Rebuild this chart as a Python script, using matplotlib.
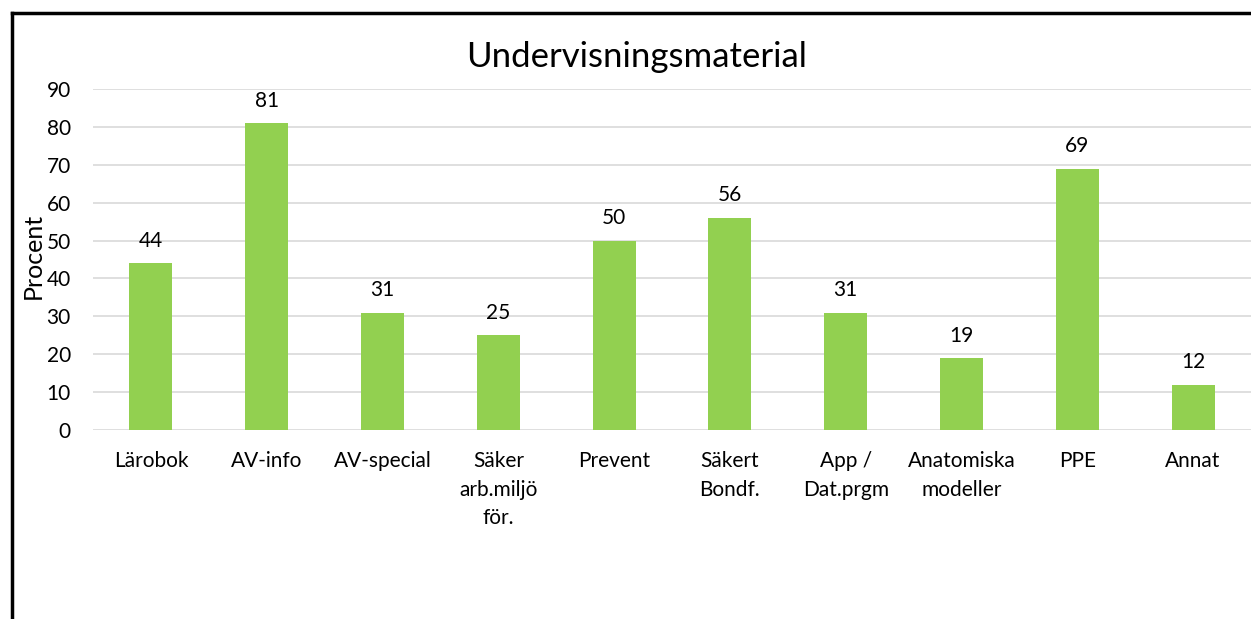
import matplotlib
matplotlib.use("Agg")
import matplotlib.pyplot as plt
from matplotlib.lines import Line2D

categories = ["Lärobok", "AV-info", "AV-special", "Säker\narb.miljö\nför.", "Prevent",
              "Säkert\nBondf.", "App /\nDat.prgm", "Anatomiska\nmodeller", "PPE", "Annat"]
values = [44, 81, 31, 25, 50, 56, 31, 19, 69, 12]
yticks = [0, 10, 20, 30, 40, 50, 60, 70, 80, 90]

plt.rcParams['font.family'] = ['Lato', 'DejaVu Sans']

fig = plt.figure(figsize=(12.51, 6.19), dpi=100)
ax = fig.add_axes([93/1251, 1-430/619, 1-93/1251, (430-89)/619])

x = range(len(categories))
ax.bar(x, values, width=0.37, color="#92D050", zorder=3)
for xi, v in zip(x, values):
    ax.annotate(str(v), (xi, v), xytext=(0, 9), textcoords="offset points",
                ha="center", va="bottom", fontsize=15, color="#000000")

ax.set_xlim(-0.5, len(categories) - 0.5)
ax.set_ylim(0, 90)
ax.set_yticks(yticks)
ax.set_xticks(list(x))
ax.set_xticklabels(categories, fontsize=15, linespacing=1.55)
ax.tick_params(axis="both", length=0, labelsize=15)
ax.tick_params(axis="x", pad=15)
ax.tick_params(axis="y", pad=16)
ax.grid(axis="y", color="#D9D9D9", linewidth=1.2, zorder=0)
for s in ax.spines.values():
    s.set_visible(False)

fig.text(33/1251, 1-256/619, "Procent", rotation=90, ha="center", va="center", fontsize=18)
fig.text(637/1251, 1-57/619, "Undervisningsmaterial", ha="center", va="center", fontsize=25)

# outer frame (top and left)
fig.add_artist(Line2D([12/1251, 1], [1-13/619, 1-13/619], color="black", lw=2.5, transform=fig.transFigure))
fig.add_artist(Line2D([12/1251, 12/1251], [0, 1-13/619], color="black", lw=2.5, transform=fig.transFigure))

fig.savefig("out.png", dpi=100)
